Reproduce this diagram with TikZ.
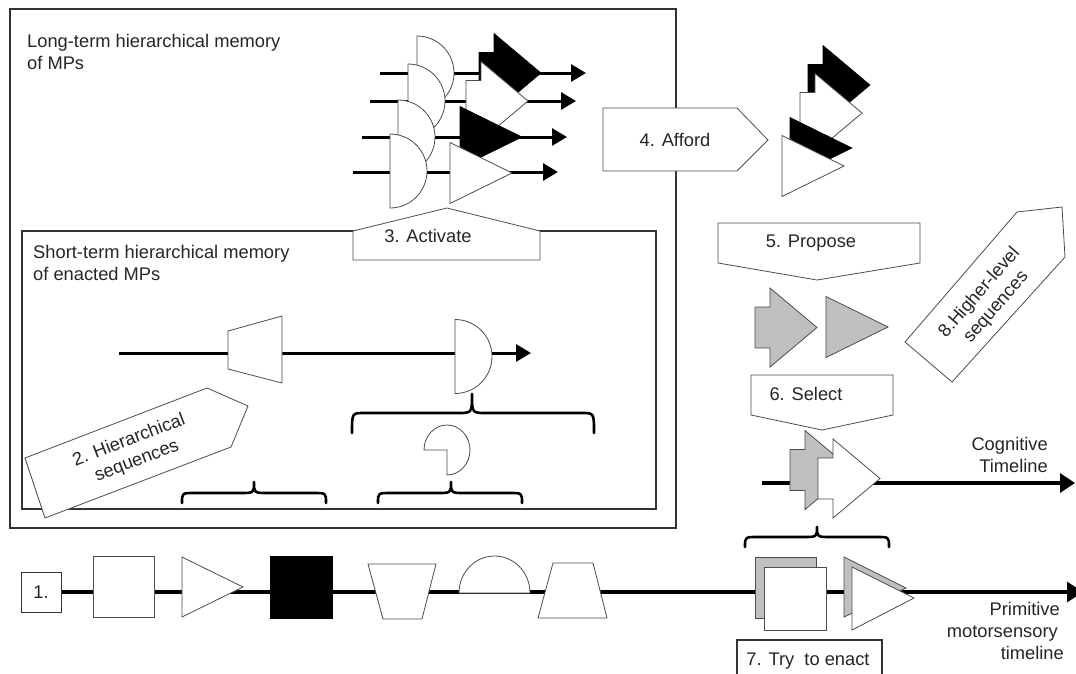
\documentclass[tikz,border=0pt]{standalone}
\usepackage{fontspec}
\setmainfont{Liberation Sans}
\usetikzlibrary{arrows.meta}
\newcommand\mybrace[6]{%
  \draw[brc] (#1,#6) .. controls (#1,#5) .. (#1+12,#5) -- (#3-14,#5)
    .. controls (#3,#5) .. (#3,#4) .. controls (#3,#5) .. (#3+14,#5)
    -- (#2-12,#5) .. controls (#2,#5) .. (#2,#6);}
\begin{document}
\begin{tikzpicture}[x=1pt,y=-1pt,
  box/.style={draw=black!80,line width=1.1pt},
  shp/.style={draw=black!70,line width=0.8pt,fill=white},
  blk/.style={draw=black,line width=0.6pt,fill=black},
  gry/.style={draw=black!70,line width=0.8pt,fill=black!25},
  tl/.style={line width=3pt,-{Triangle[length=15pt,width=17pt]}},
  bigtl/.style={line width=3.2pt,-{Triangle[length=16pt,width=20pt]}},
  brc/.style={line width=2.6pt,line cap=round,line join=round},
  lbl/.style={font=\fontsize{18.3}{22}\selectfont,inner sep=0pt,text=black!85},
  tailtri/.pic={\path[pic actions] (0,-39.5) -- (47,0) -- (0,39.5) -- (0,20.5) -- (-15,20.5) -- (-15,-20.5) -- (0,-20.5) -- cycle;},
  tri/.pic={\path[pic actions] (0,-30.5) -- (62,0) -- (0,30.5) -- cycle;},
  dee/.pic={\path[pic actions] (0,-37) arc[start angle=-90,end angle=90,radius=37] -- cycle;}
]
\useasboundingbox[fill=white] (0,0) rectangle (1076,673);

% memory boxes
\draw[box] (10,9) rectangle (676,528);
\draw[box] (22,231) rectangle (656,509);
\node[lbl,anchor=base west] (lt1) at (27,47) {Long-term hierarchical memory};
\node[lbl,anchor=base west] (lt2) at (27,69) {of MPs};
\node[lbl,anchor=base west] (st1) at (33,258) {Short-term hierarchical memory};
\node[lbl,anchor=base west] (st2) at (33,280) {of enacted MPs};

% long-term cluster
\coordinate (r1a) at (380,73);  \coordinate (r1b) at (586,73);
\coordinate (r2a) at (370,101); \coordinate (r2b) at (576,101);
\coordinate (r3a) at (362,137); \coordinate (r3b) at (567,137);
\coordinate (r4a) at (353,172); \coordinate (r4b) at (558,172);
\draw[tl] (r1a) -- (r1b);
\draw[tl] (r2a) -- (r2b);
\draw[tl] (r3a) -- (r3b);
\draw[tl] (r4a) -- (r4b);
\pic[shp] at (417,73) {dee};
\pic[shp] at (408,101) {dee};
\pic[shp] at (398,137) {dee};
\pic[shp] at (390,171) {dee};
\pic[blk] at (494,73) {tailtri};
\pic[shp] at (481,101) {tailtri};
\pic[blk] at (460,137) {tri};
\pic[shp] at (450,173) {tri};

% 3. Activate
\draw[shp] (353,260) -- (353,231) -- (447,208) -- (540,231) -- (540,260) -- cycle;
\node[lbl,anchor=base] (act) at (428,242) {3. Activate};

% 4. Afford
\draw[shp] (603,108) -- (737,108) -- (768,140) -- (737,171) -- (603,171) -- cycle;
\node[lbl,anchor=base] (aff) at (675,146) {4. Afford};

% afforded cluster
\pic[blk] at (823,85) {tailtri};
\pic[shp] at (815,113) {tailtri};
\pic[blk] at (790,148) {tri};
\pic[shp] at (782,166) {tri};

% 5. Propose
\draw[shp] (718,223) -- (920,223) -- (920,263) -- (817,280) -- (718,263) -- cycle;
\node[lbl,anchor=base] (prop) at (811,247) {5. Propose};
\pic[gry] at (770,327.5) {tailtri};
\pic[gry] at (826,327) {tri};

% 8. Higher-level sequences
\draw[shp] (1017,212) -- (1062,207) -- (1065,257) -- (952,382) -- (905,342) -- cycle;
\node[lbl,align=center,rotate=49] (hl) at (988,300) {8.Higher-level\\sequences};

% 6. Select
\draw[shp] (751,375) -- (893,375) -- (893,415) -- (822,430) -- (751,415) -- cycle;
\node[lbl,anchor=base] (sel) at (806,400) {6. Select};

% cognitive timeline
\coordinate (ca) at (762,483); \coordinate (cb) at (1075,483);
\draw[line width=3.2pt,-{Triangle[length=15pt,width=19pt]}] (ca) -- (cb);
\pic[gry] at (805,470) {tailtri};
\pic[shp] at (833,478.5) {tailtri};
\node[lbl,anchor=base east] (cg1) at (1048,450) {Cognitive};
\node[lbl,anchor=base east] (cg2) at (1048,472) {Timeline};

% short-term content
\coordinate (sa) at (119,353); \coordinate (sb) at (531,353);
\draw[tl] (sa) -- (sb);
\draw[shp] (228,331) -- (282,316) -- (282,383) -- (228,369) -- cycle;
\pic[shp] at (455,356.5) {dee};
\mybrace{352}{594}{472}{394}{413}{433}
\draw[shp] (447,450) -- (424,450) arc[start angle=180,end angle=450,x radius=23,y radius=25] -- cycle;
\mybrace{182}{326}{254}{482}{493}{503}
\mybrace{378}{522}{451}{482}{493}{503}

% 2. Hierarchical sequences
\draw[shp] (25,458) -- (207,388) -- (248,406) -- (231,447) -- (45,518) -- cycle;
\node[lbl,align=center,rotate=21] (hs) at (133,451) {2. Hierarchical\\sequences};

% primitive timeline
\node[draw=black!80,line width=1pt,minimum width=40pt,minimum height=40pt,lbl] (one) at (41,592) {1.};
\coordinate (pe) at (1083,592);
\draw[bigtl] (one.east) -- (pe);
\draw[shp] (93,556) rectangle (154,617);
\draw[shp] (182,557) -- (243,587) -- (182,617) -- cycle;
\draw[blk] (270,556) rectangle (332,618);
\draw[shp] (368,564) -- (436,564) -- (422,619) -- (383,619) -- cycle;
\draw[shp] (459,593) arc[start angle=180,end angle=360,x radius=35.5,y radius=37] -- cycle;
\draw[shp] (553,563) -- (593,563) -- (607,618) -- (538,618) -- cycle;

\draw[gry] (755,557) rectangle (816,618);
\draw[shp] (764,567) rectangle (826,630);
\draw[gry] (844,557) -- (906,588) -- (844,617) -- cycle;
\draw[shp] (852,567) -- (914,598) -- (852,630) -- cycle;
\mybrace{745}{889}{817}{527}{537}{547}

\node[lbl,anchor=base east] (pm1) at (1060,615) {Primitive};
\node[lbl,anchor=base east] (pm2) at (1058,637) {motorsensory};
\node[lbl,anchor=base east] (pm3) at (1064,659) {timeline};

% 7. Try to enact
\draw[box] (737,640) rectangle (882,690);
\node[lbl,anchor=base] (try) at (808,665) {7. Try~ to enact};
\end{tikzpicture}
\end{document}
